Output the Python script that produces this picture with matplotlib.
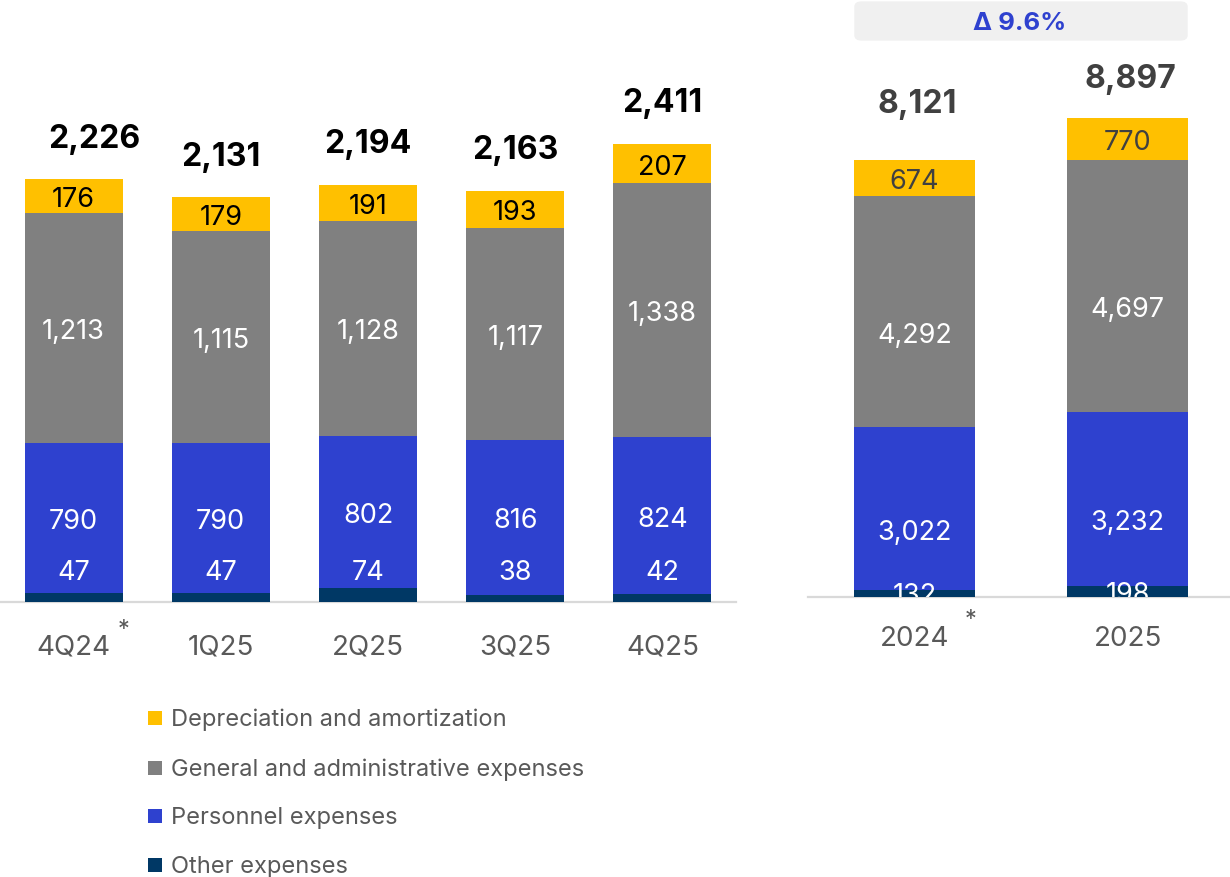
import matplotlib
matplotlib.use("Agg")
import matplotlib.pyplot as plt
import numpy as np
from matplotlib.patches import FancyBboxPatch, Rectangle

# ---------------- data ----------------
quarters = ['4Q24', '1Q25', '2Q25', '3Q25', '4Q25']
q_other = [47, 47, 74, 38, 42]
q_personnel = [790, 790, 802, 816, 824]
q_ga = [1213, 1115, 1128, 1117, 1338]
q_da = [176, 179, 191, 193, 207]
q_total = [2226, 2131, 2194, 2163, 2411]

years = ['2024', '2025']
y_other = [132, 198]
y_personnel = [3022, 3232]
y_ga = [4292, 4697]
y_da = [674, 770]
y_total = [8121, 8897]

legend_labels = ['Depreciation and amortization', 'General and administrative expenses',
                 'Personnel expenses', 'Other expenses']
delta_text = 'Δ 9.6%'

# ---------------- style ----------------
C_DA = '#FFC000'
C_GA = '#808080'
C_PE = '#2E41CF'
C_OT = '#003865'
C_TXT = '#595959'
C_LINE = '#D9D9D9'

plt.rcParams['font.family'] = ['Inter', 'DejaVu Sans']

W, H = 1230, 878
fig = plt.figure(figsize=(W / 100, H / 100), dpi=100)


def fx(px):
    return px / W


def fy(py):
    return 1 - py / H


def pt(px):
    return px * 72 / 100


axL = fig.add_axes([0, fy(603), 736 / W, 603 / H])
axR = fig.add_axes([808 / W, fy(598), (1230 - 808) / W, 598 / H])

LBL = 19.5
TOT = 23


def draw_panel(ax, cats, other, pers, ga, da, totals, width, ylim, da_color_txt, total_color,
               total_offsets, total_xoff, other_label_mode, mid_offset_px, clip_other, xmax, tick_pad):
    x = np.arange(len(cats))
    other = np.array(other, float)
    pers = np.array(pers, float)
    ga = np.array(ga, float)
    da = np.array(da, float)
    b1 = other
    b2 = b1 + pers
    b3 = b2 + ga
    ax.bar(x, other, width, color=C_OT, zorder=2)
    ax.bar(x, pers, width, bottom=b1, color=C_PE, zorder=2)
    ax.bar(x, ga, width, bottom=b2, color=C_GA, zorder=2)
    ax.bar(x, da, width, bottom=b3, color=C_DA, zorder=2)
    top = b3 + da
    for i in range(len(cats)):
        ax.annotate(f'{int(da[i]):,}', xy=(x[i], b3[i] + da[i] / 2), xytext=(0, -pt(3)),
                    textcoords='offset points', ha='center', va='center',
                    fontsize=LBL, color=da_color_txt, zorder=5)
        ax.annotate(f'{int(ga[i]):,}', xy=(x[i], b2[i] + ga[i] / 2), xytext=(0, -pt(mid_offset_px + 3)),
                    textcoords='offset points', ha='center', va='center', fontsize=LBL,
                    color='white', zorder=5)
        ax.annotate(f'{int(pers[i]):,}', xy=(x[i], b1[i] + pers[i] / 2), xytext=(0, -pt(mid_offset_px + 3)),
                    textcoords='offset points', ha='center', va='center', fontsize=LBL,
                    color='white', zorder=5)
        if other_label_mode == 'above':
            t = ax.annotate(f'{int(other[i]):,}', xy=(x[i], 0), xytext=(0, pt(30)),
                            textcoords='offset points', ha='center', va='center', fontsize=LBL,
                            color='white', zorder=5)
        else:
            t = ax.annotate(f'{int(other[i]):,}', xy=(x[i], other[i] / 2), xytext=(0, -pt(2)),
                            textcoords='offset points', ha='center', va='center', fontsize=LBL,
                            color='white', zorder=5)
        if clip_other:
            t.set_clip_path(ax.patch)
        ax.annotate(f'{totals[i]:,}', xy=(x[i], top[i]), xytext=(pt(total_xoff[i]), pt(total_offsets[i])),
                    textcoords='offset points', ha='center', va='center', fontsize=TOT,
                    fontweight='bold', color=total_color, zorder=5)
    ax.set_xlim(-0.5, xmax)
    ax.set_ylim(0, ylim)
    ax.set_xticks(x)
    ax.set_xticklabels(cats, fontsize=20, color=C_TXT)
    ax.tick_params(axis='x', length=0, pad=pt(tick_pad))
    ax.set_yticks([])
    for s in ['left', 'right', 'top']:
        ax.spines[s].set_visible(False)
    ax.spines['bottom'].set_color(C_LINE)
    ax.spines['bottom'].set_linewidth(1.6)
    ax.spines['bottom'].set_zorder(1)
    ax.patch.set_alpha(0)


draw_panel(axL, quarters, q_other, q_personnel, q_ga, q_da, q_total, 0.665, 603 / 0.19,
           'black', 'black', [41] * 5, [21, 0, 0, 0, 0], 'above', 0, False, 4.5, 31)
draw_panel(axR, years, y_other, y_personnel, y_ga, y_da, y_total, 0.568, 598 / 0.0538,
           '#404040', '#404040', [57, 40], [3, 3], 'center', 20, True, 1.48, 28)

axL.annotate('*', xy=(0, 0), xycoords=('data', 'axes fraction'), xytext=(pt(50), -pt(27)),
             textcoords='offset points', ha='center', va='center', fontsize=17, color=C_TXT)
axR.annotate('*', xy=(0, 0), xycoords=('data', 'axes fraction'), xytext=(pt(56), -pt(22)),
             textcoords='offset points', ha='center', va='center', fontsize=17, color=C_TXT)

box = FancyBboxPatch((fx(858), fy(39)), fx(1184) - fx(858), fy(5) - fy(39),
                     boxstyle='round,pad=0.003,rounding_size=0.006', transform=fig.transFigure,
                     facecolor='#F0F0F0', edgecolor='none')
fig.patches.append(box)
fig.text(fx(1020), fy(23), delta_text, ha='center', va='center', fontsize=18.5, fontweight='bold',
         color=C_PE)

leg_colors = [C_DA, C_GA, C_PE, C_OT]
leg_y = [719, 769, 817, 866]
for lab, col, yy in zip(legend_labels, leg_colors, leg_y):
    fig.patches.append(Rectangle((fx(148), fy(yy + 7)), 14 / W, 14 / H, transform=fig.transFigure,
                                 facecolor=col, edgecolor='none'))
    fig.text(fx(171), fy(yy + 1), lab, ha='left', va='center', fontsize=17, color=C_TXT)

fig.savefig('out.png', dpi=100)
